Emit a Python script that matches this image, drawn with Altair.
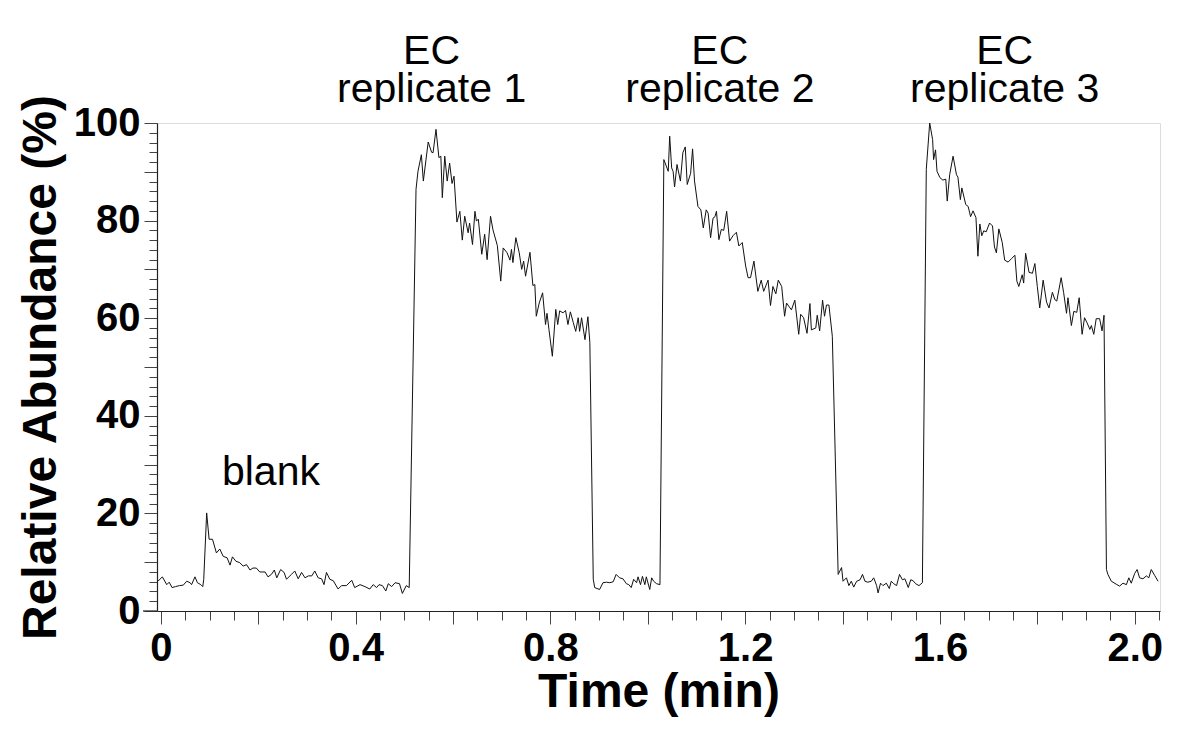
import altair as alt
import pandas as pd

# Chromatogram trace (time in min, relative abundance in %)
time_min = [
    -0.006, 0.003, 0.012, 0.017, 0.023, 0.030, 0.038, 0.046, 0.053, 0.060, 0.063, 0.070, 0.075, 0.082, 0.086, 0.088,
    0.094, 0.099, 0.106, 0.114, 0.121, 0.128, 0.136, 0.142, 0.147, 0.154, 0.162, 0.169, 0.176, 0.183, 0.189, 0.196,
    0.203, 0.214, 0.220, 0.227, 0.233, 0.238, 0.246, 0.253, 0.258, 0.268, 0.275, 0.282, 0.289, 0.296, 0.303, 0.310,
    0.316, 0.323, 0.330, 0.335, 0.340, 0.347, 0.354, 0.364, 0.371, 0.381, 0.392, 0.398, 0.409, 0.419, 0.429, 0.436,
    0.443, 0.448, 0.455, 0.462, 0.467, 0.474, 0.481, 0.490, 0.496, 0.504, 0.510,
    # replicate 1
    0.524, 0.528, 0.535, 0.539, 0.549, 0.556, 0.559, 0.565, 0.571, 0.575, 0.578, 0.583, 0.588, 0.593, 0.598, 0.602,
    0.608, 0.614, 0.619, 0.624, 0.631, 0.634, 0.640, 0.645, 0.648, 0.652, 0.659, 0.665, 0.670, 0.677, 0.682, 0.691,
    0.698, 0.703, 0.711, 0.717, 0.720, 0.723, 0.729, 0.736, 0.741, 0.745, 0.749, 0.758, 0.764, 0.768, 0.771, 0.777,
    0.784, 0.790, 0.793, 0.797, 0.804, 0.811, 0.815, 0.819, 0.826, 0.831, 0.836, 0.841, 0.847, 0.852, 0.857, 0.860,
    0.864, 0.871, 0.877, 0.881,
    0.888, 0.891, 0.901, 0.908, 0.915, 0.922, 0.929, 0.935, 0.942, 0.949, 0.956, 0.961, 0.966, 0.971, 0.977, 0.980,
    0.985, 0.989, 0.994, 0.997, 1.004, 1.008, 1.012, 1.018, 1.025,
    # replicate 2
    1.033, 1.042, 1.045, 1.049, 1.052, 1.055, 1.060, 1.067, 1.072, 1.077, 1.081, 1.088, 1.092, 1.096, 1.103, 1.109,
    1.114, 1.120, 1.124, 1.129, 1.134, 1.138, 1.141, 1.146, 1.151, 1.156, 1.162, 1.168, 1.175, 1.182, 1.187, 1.194,
    1.201, 1.206, 1.211, 1.218, 1.226, 1.233, 1.238, 1.247, 1.252, 1.257, 1.263, 1.268, 1.275, 1.281, 1.285, 1.295,
    1.302, 1.310, 1.314, 1.320, 1.327, 1.333, 1.336, 1.345, 1.348, 1.353, 1.359, 1.363, 1.367, 1.372, 1.379,
    1.391, 1.398, 1.401, 1.408, 1.413, 1.418, 1.423, 1.429, 1.436, 1.441, 1.446, 1.452, 1.459, 1.464, 1.470, 1.473,
    1.478, 1.483, 1.490, 1.496, 1.500, 1.505, 1.511, 1.517, 1.523, 1.528, 1.535, 1.540, 1.545, 1.550, 1.557, 1.564,
    # replicate 3
    1.572, 1.579, 1.585, 1.587, 1.591, 1.594, 1.600, 1.606, 1.612, 1.615, 1.620, 1.627, 1.634, 1.637, 1.642, 1.645,
    1.653, 1.658, 1.663, 1.668, 1.674, 1.678, 1.682, 1.686, 1.690, 1.695, 1.702, 1.708, 1.712, 1.716, 1.721, 1.728,
    1.733, 1.740, 1.747, 1.754, 1.758, 1.762, 1.769, 1.772, 1.776, 1.783, 1.790, 1.795, 1.800, 1.805, 1.812, 1.819,
    1.824, 1.831, 1.836, 1.840, 1.849, 1.854, 1.860, 1.863, 1.870, 1.875, 1.881, 1.886, 1.892, 1.897, 1.902, 1.908,
    1.911, 1.916, 1.921, 1.928, 1.933, 1.937,
    1.942, 1.945, 1.952, 1.962, 1.969, 1.976, 1.983, 1.988, 1.993, 2.000, 2.005, 2.010, 2.017, 2.024, 2.029, 2.034,
    2.041, 2.048,
]

abundance_pct = [
    6.1, 7.0, 5.4, 5.9, 4.8, 5.0, 5.2, 5.3, 6.1, 5.8, 5.4, 7.0, 5.8, 5.4, 5.0, 6.5,
    20.1, 14.7, 14.7, 11.9, 12.7, 11.2, 10.9, 9.4, 11.1, 10.2, 9.9, 9.2, 9.5, 8.4, 8.8, 8.8,
    8.0, 8.0, 7.0, 7.5, 8.4, 6.8, 8.5, 7.9, 6.5, 7.5, 8.2, 6.6, 7.9, 6.8, 7.2, 7.2,
    8.2, 6.8, 6.6, 5.4, 7.9, 6.5, 6.2, 4.5, 5.2, 5.2, 6.3, 4.8, 5.4, 5.0, 4.5, 5.4,
    4.8, 5.4, 5.2, 4.1, 5.6, 5.0, 5.8, 5.6, 3.6, 5.2, 4.8,
    # replicate 1
    86.4, 90.1, 93.5, 88.1, 96.1, 94.0, 93.9, 98.7, 92.9, 93.2, 84.7, 93.2, 88.1, 91.8, 87.6, 89.1,
    79.7, 81.9, 76.0, 80.9, 77.5, 79.5, 75.1, 81.9, 79.9, 80.3, 73.1, 77.2, 72.0, 80.9, 78.1, 74.9,
    67.6, 74.4, 73.4, 71.9, 74.1, 71.4, 76.5, 73.4, 70.0, 71.7, 68.6, 73.5, 66.7, 66.9, 60.4, 63.1,
    65.2, 58.7, 61.0, 57.7, 52.2, 61.8, 58.7, 61.5, 61.1, 61.6, 58.7, 61.3, 59.1, 57.3, 60.1, 57.3,
    60.1, 55.6, 60.3, 55.0,
    6.5, 4.8, 4.4, 5.8, 5.9, 5.8, 6.0, 7.5, 6.8, 6.6, 5.6, 5.4, 4.8, 6.5, 5.8, 7.0,
    5.4, 7.1, 5.4, 7.0, 4.4, 6.8, 6.1, 5.6, 5.4,
    # replicate 2
    92.5, 90.1, 97.3, 90.8, 90.1, 86.9, 91.5, 88.1, 93.9, 95.1, 87.4, 89.7, 94.7, 88.1, 82.9, 82.2,
    78.5, 82.2, 81.5, 76.5, 80.5, 80.8, 81.9, 76.1, 78.2, 78.0, 81.9, 75.8, 76.9, 77.6, 74.8, 75.5,
    70.7, 68.3, 68.3, 71.7, 65.5, 67.8, 65.5, 67.8, 62.6, 66.5, 65.0, 67.8, 66.5, 60.4, 63.1, 61.7,
    63.7, 56.7, 60.8, 60.1, 56.9, 63.0, 57.6, 58.0, 60.6, 57.4, 63.7, 60.4, 62.7, 62.7, 56.3,
    7.5, 8.9, 6.1, 6.8, 5.2, 6.1, 4.9, 6.1, 6.4, 7.5, 6.1, 5.9, 6.1, 6.8, 5.2, 3.7,
    5.7, 5.2, 5.7, 4.6, 6.1, 5.6, 5.2, 7.5, 6.4, 6.6, 4.8, 6.4, 6.2, 5.6, 5.2, 5.8,
    # replicate 3
    90.5, 100.0, 96.6, 92.5, 94.5, 90.1, 88.8, 88.3, 88.5, 84.0, 89.4, 93.2, 89.4, 88.9, 84.3, 86.7,
    83.3, 82.9, 80.8, 82.0, 80.6, 72.7, 79.3, 76.9, 77.9, 77.7, 79.5, 78.9, 74.6, 73.4, 78.3, 75.5,
    71.9, 71.5, 72.2, 72.9, 67.6, 66.5, 68.9, 67.2, 73.3, 69.4, 69.2, 71.2, 66.5, 62.1, 67.8, 63.3,
    62.1, 65.3, 63.8, 63.5, 68.3, 65.3, 61.0, 64.2, 58.5, 61.4, 61.2, 64.2, 56.7, 60.1, 59.1, 57.7,
    58.5, 56.7, 59.9, 59.9, 57.4, 60.6,
    8.5, 7.5, 6.1, 5.5, 5.1, 5.7, 5.4, 6.8, 5.7, 7.7, 8.5, 6.8, 6.6, 7.2, 6.8, 8.5,
    7.3, 6.1,
]

# Annotations (two-line labels use a line break; y is the first line's baseline)
label_text = ["blank", "EC\nreplicate 1", "EC\nreplicate 2", "EC\nreplicate 3"]
label_time = [0.226, 0.556, 1.148, 1.733]
label_value = [25.9, 112.0, 112.0, 112.0]

# Axis tick positions
x_ticks = [round(i * 0.05, 2) for i in range(42)]
y_ticks = list(range(0, 101, 2))

W, H = 1003, 488
FONT = "Liberation Sans"

trace = pd.DataFrame({"t": time_min, "v": abundance_pct})
labels = pd.DataFrame({"t": label_time, "v": label_value, "txt": label_text})

x_scale = alt.Scale(domain=[-0.008, 2.052], nice=False, zero=False)
y_scale = alt.Scale(domain=[0, 100], nice=False)

X_MAJOR = "abs(datum.value*5 - round(datum.value*5)) < 0.001"
X_LABEL = "abs(datum.value*2.5 - round(datum.value*2.5)) < 0.001"

x_axis = alt.Axis(
    title="Time (min)",
    values=x_ticks,
    tickSize={"condition": {"test": X_MAJOR, "value": 13}, "value": 9},
    labelExpr=X_LABEL + " ? (datum.value == 0 ? '0' : format(datum.value, '.1f')) : ''",
    labelFontSize={"condition": {"test": X_LABEL, "value": 40}, "value": 1},
    labelFont=FONT, labelFontWeight="bold", labelColor="black",
    labelPadding=4, labelFlush=False, labelOverlap=False,
    titleFont=FONT, titleFontSize=48, titleFontWeight="bold", titleColor="black", titlePadding=0,
    domainColor="#222", tickColor="#444", tickWidth=1, domainWidth=1.2, grid=False,
)

y_axis = alt.Axis(
    title="Relative Abundance  (%)",
    values=y_ticks,
    tickSize={"condition": {"test": "datum.value % 10 === 0", "value": 13}, "value": 8},
    labelExpr="datum.value % 20 === 0 ? datum.label : ''",
    labelFontSize={"condition": {"test": "datum.value % 20 === 0", "value": 40}, "value": 1},
    labelFont=FONT, labelFontWeight="bold", labelColor="black",
    labelPadding=4, labelFlush=False, labelOverlap=False,
    titleFont=FONT, titleFontSize=48, titleFontWeight="bold", titleColor="black", titlePadding=8,
    domainColor="#222", tickColor="#444", tickWidth=1, domainWidth=1.2, grid=False,
)

line = alt.Chart(trace).mark_line(color="#111", strokeWidth=1, clip=True).encode(
    x=alt.X("t:Q", scale=x_scale, axis=x_axis),
    y=alt.Y("v:Q", scale=y_scale, axis=y_axis),
)

text = alt.Chart(labels).mark_text(
    font=FONT, fontSize=41, color="black", baseline="alphabetic", align="center",
    lineBreak="\n", lineHeight=38,
).encode(
    x=alt.X("t:Q", scale=x_scale, axis=x_axis),
    y=alt.Y("v:Q", scale=y_scale, axis=y_axis),
    text="txt:N",
)

axis_ext = alt.Chart(pd.DataFrame({"a": [0]})).mark_rule(color="#222", strokeWidth=1.2).encode(
    x=alt.value(-14), x2=alt.value(0), y=alt.value(H)
)

chart = alt.layer(line, text, axis_ext).properties(
    width=W, height=H,
    autosize=alt.AutoSizeParams(type="none"),
    padding={"left": 149, "top": 115, "right": 15, "bottom": 112},
).configure_view(stroke=None).configure(background="white")

chart.save("out.html", embed_options={"renderer": "svg", "actions": False})
